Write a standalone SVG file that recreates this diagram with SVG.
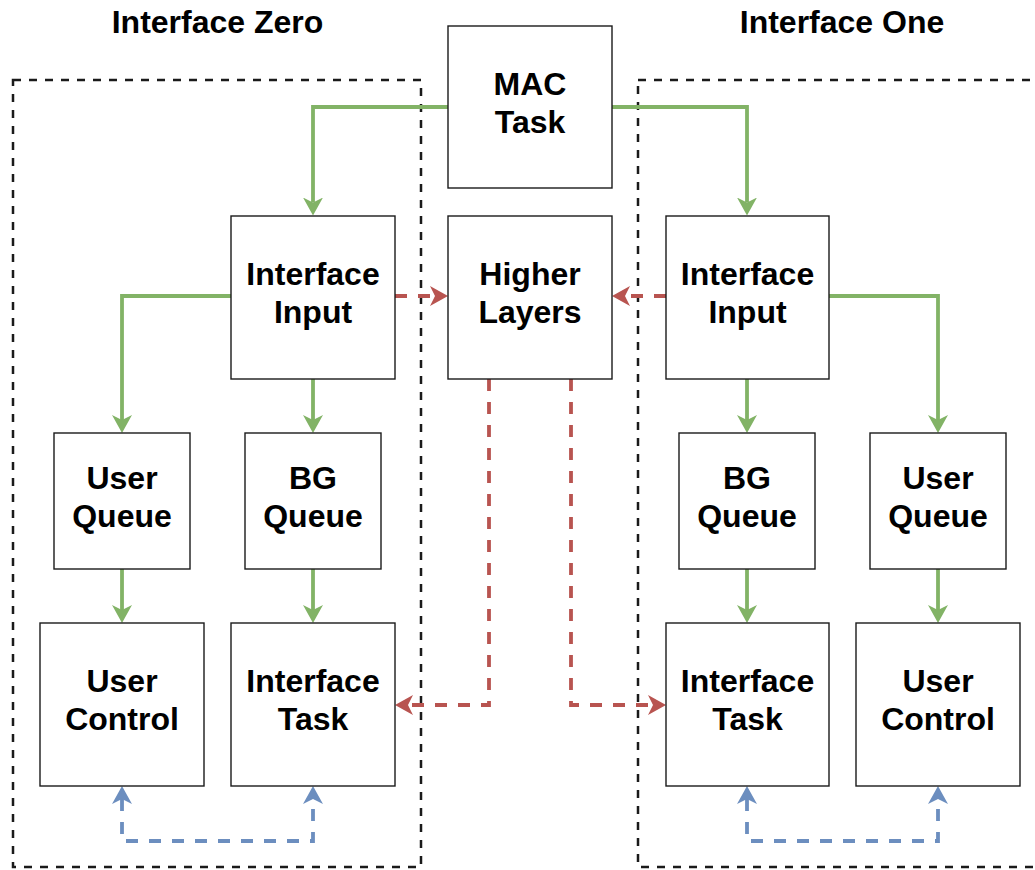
<svg xmlns="http://www.w3.org/2000/svg" width="1035" height="870" viewBox="0 0 1035 870">
  <style>
    .box { fill: #ffffff; stroke: #1a1a1a; stroke-width: 1.4; }
    .lbl { font-family: "Liberation Sans", Arial, Helvetica, sans-serif; font-weight: bold; font-size: 32px; fill: #000000; text-anchor: middle; }
    .group { fill: none; stroke: #1a1a1a; stroke-width: 2.5; stroke-dasharray: 8 8; }
    .flow { fill: none; stroke: #82b366; stroke-width: 3.8; marker-end: url(#arrow-green); }
    .hl { fill: none; stroke: #b85450; stroke-width: 3.8; stroke-dasharray: 12 11; marker-end: url(#arrow-red); }
    .ctl { fill: none; stroke: #6c8ebf; stroke-width: 3.8; stroke-dasharray: 12 11; marker-start: url(#arrow-blue); marker-end: url(#arrow-blue); }
  </style>
  <defs>
    <marker id="arrow-green" markerUnits="userSpaceOnUse" viewBox="0 0 18 20" refX="5" refY="10" markerWidth="18" markerHeight="20" orient="auto-start-reverse">
      <path d="M0,0 L18,10 L0,20 L5,10 Z" fill="#82b366" stroke="none"/>
    </marker>
    <marker id="arrow-red" markerUnits="userSpaceOnUse" viewBox="0 0 18 20" refX="5" refY="10" markerWidth="18" markerHeight="20" orient="auto-start-reverse">
      <path d="M0,0 L18,10 L0,20 L5,10 Z" fill="#b85450" stroke="none"/>
    </marker>
    <marker id="arrow-blue" markerUnits="userSpaceOnUse" viewBox="0 0 18 20" refX="5" refY="10" markerWidth="18" markerHeight="20" orient="auto-start-reverse">
      <path d="M0,0 L18,10 L0,20 L5,10 Z" fill="#6c8ebf" stroke="none"/>
    </marker>
  </defs>

  <rect width="1035" height="870" fill="#ffffff"/>

  <!-- interface groupings -->
  <g id="interface-zero">
    <rect class="group" x="13" y="80" width="408" height="787"/>
    <text class="lbl" x="217.5" y="33">Interface Zero</text>
  </g>
  <g id="interface-one">
    <rect class="group" x="638" y="80" width="420" height="787"/>
    <text class="lbl" x="842" y="33">Interface One</text>
  </g>

  <!-- connectors -->
  <g id="connectors">
    <!-- MAC task fan-out -->
    <path class="flow" d="M448,107 H313 V202.5"/>
    <path class="flow" d="M612,107 H747 V202.5"/>
    <!-- interface input to queues -->
    <path class="flow" d="M231,296 H122 V420"/>
    <path class="flow" d="M313,379 V420"/>
    <path class="flow" d="M747,379 V420"/>
    <path class="flow" d="M829,296 H938 V420"/>
    <!-- queues to consumers -->
    <path class="flow" d="M122,569 V610"/>
    <path class="flow" d="M313,569 V610"/>
    <path class="flow" d="M747,569 V610"/>
    <path class="flow" d="M938,569 V610"/>
    <!-- higher layer traffic -->
    <path class="hl" d="M395,296 H435"/>
    <path class="hl" d="M666,296 H625"/>
    <path class="hl" d="M489,379 V705 H408"/>
    <path class="hl" d="M571,379 V705 H653"/>
    <!-- control links -->
    <path class="ctl" d="M122,799 V841 H313 V799"/>
    <path class="ctl" d="M747,799 V841 H938 V799"/>
  </g>

  <!-- nodes -->
  <g id="mac-task">
    <rect class="box" x="448" y="26" width="164" height="162"/>
    <text class="lbl" x="530" y="95">MAC</text>
    <text class="lbl" x="530" y="133">Task</text>
  </g>
  <g id="higher-layers">
    <rect class="box" x="448" y="216" width="164" height="163"/>
    <text class="lbl" x="530" y="285">Higher</text>
    <text class="lbl" x="530" y="323">Layers</text>
  </g>
  <g id="input-zero">
    <rect class="box" x="231" y="216" width="164" height="163"/>
    <text class="lbl" x="313" y="285">Interface</text>
    <text class="lbl" x="313" y="323">Input</text>
  </g>
  <g id="input-one">
    <rect class="box" x="666" y="216" width="163" height="163"/>
    <text class="lbl" x="747.5" y="285">Interface</text>
    <text class="lbl" x="747.5" y="323">Input</text>
  </g>
  <g id="user-queue-zero">
    <rect class="box" x="54" y="433" width="136" height="136"/>
    <text class="lbl" x="122" y="489">User</text>
    <text class="lbl" x="122" y="527">Queue</text>
  </g>
  <g id="bg-queue-zero">
    <rect class="box" x="245" y="433" width="136" height="136"/>
    <text class="lbl" x="313" y="489">BG</text>
    <text class="lbl" x="313" y="527">Queue</text>
  </g>
  <g id="bg-queue-one">
    <rect class="box" x="679" y="433" width="136" height="136"/>
    <text class="lbl" x="747" y="489">BG</text>
    <text class="lbl" x="747" y="527">Queue</text>
  </g>
  <g id="user-queue-one">
    <rect class="box" x="870" y="433" width="136" height="136"/>
    <text class="lbl" x="938" y="489">User</text>
    <text class="lbl" x="938" y="527">Queue</text>
  </g>
  <g id="user-control-zero">
    <rect class="box" x="40" y="623" width="164" height="163"/>
    <text class="lbl" x="122" y="692">User</text>
    <text class="lbl" x="122" y="730">Control</text>
  </g>
  <g id="interface-task-zero">
    <rect class="box" x="231" y="623" width="164" height="163"/>
    <text class="lbl" x="313" y="692">Interface</text>
    <text class="lbl" x="313" y="730">Task</text>
  </g>
  <g id="interface-task-one">
    <rect class="box" x="666" y="623" width="163" height="163"/>
    <text class="lbl" x="747.5" y="692">Interface</text>
    <text class="lbl" x="747.5" y="730">Task</text>
  </g>
  <g id="user-control-one">
    <rect class="box" x="856" y="623" width="164" height="163"/>
    <text class="lbl" x="938" y="692">User</text>
    <text class="lbl" x="938" y="730">Control</text>
  </g>
</svg>
